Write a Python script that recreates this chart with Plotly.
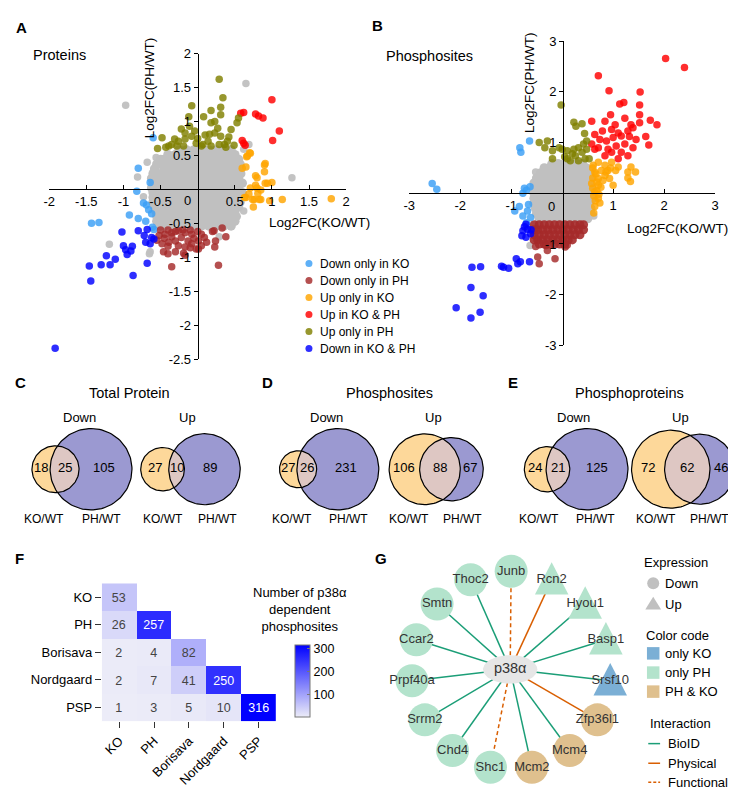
import math
import plotly.graph_objects as go

W, H = 736, 791
FONT = "Liberation Sans, Arial, sans-serif"

# ---------------- data: panel A (proteins) ----------------
GROUPS = ["Down only in KO", "Down only in PH", "Up only in KO",
          "Up in KO & PH", "Up only in PH", "Down in KO & PH"]
GROUP_COLORS = ["#3a9ff5", "#a52a2a", "#ffa500", "#ff0000", "#808000", "#0000ff"]
GRAY = "#c0c0c0"

A_GRAY_ROWS = {
    0.58: [-0.25, -0.15, -0.05, 0.05, 0.15, 0.25, 0.35, 0.45],
    0.51: [-0.4, -0.3, -0.2, -0.1, 0, 0.1, 0.2, 0.3, 0.4, 0.5],
    0.44: [-0.5, -0.45, -0.35, -0.25, -0.15, -0.05, 0.05, 0.15, 0.25, 0.35, 0.45, 0.55],
    0.37: [-0.55, -0.5, -0.4, -0.3, -0.2, -0.1, 0, 0.1, 0.2, 0.3, 0.4, 0.5, 0.57],
    0.30: [-0.58, -0.45, -0.35, -0.25, -0.15, -0.05, 0.05, 0.15, 0.25, 0.35, 0.45, 0.55],
    0.23: [-0.6, -0.5, -0.4, -0.3, -0.2, -0.1, 0, 0.1, 0.2, 0.3, 0.4, 0.5, 0.58],
    0.16: [-0.62, -0.55, -0.45, -0.35, -0.25, -0.15, -0.05, 0.05, 0.15, 0.25, 0.35, 0.45, 0.55],
    0.09: [-0.6, -0.5, -0.4, -0.3, -0.2, -0.1, 0, 0.1, 0.2, 0.3, 0.4, 0.5, 0.6],
    0.02: [-0.62, -0.55, -0.45, -0.35, -0.25, -0.15, -0.05, 0.05, 0.15, 0.25, 0.35, 0.45, 0.55],
    -0.05: [-0.6, -0.5, -0.4, -0.3, -0.2, -0.1, 0, 0.1, 0.2, 0.3, 0.4, 0.5, 0.6],
    -0.12: [-0.6, -0.55, -0.45, -0.35, -0.25, -0.15, -0.05, 0.05, 0.15, 0.25, 0.35, 0.45, 0.55],
    -0.19: [-0.6, -0.5, -0.4, -0.3, -0.2, -0.1, 0, 0.1, 0.2, 0.3, 0.4, 0.5, 0.57],
    -0.26: [-0.58, -0.45, -0.35, -0.25, -0.15, -0.05, 0.05, 0.15, 0.25, 0.35, 0.45, 0.55],
    -0.33: [-0.56, -0.5, -0.4, -0.3, -0.2, -0.1, 0, 0.1, 0.2, 0.3, 0.4, 0.5],
    -0.40: [-0.55, -0.45, -0.35, -0.25, -0.15, -0.05, 0.05, 0.15, 0.25, 0.35, 0.45, 0.52],
    -0.47: [-0.55, -0.5, -0.4, -0.3, -0.2, -0.1, 0, 0.1, 0.2, 0.3, 0.4, 0.5],
    -0.54: [-0.5, -0.45, -0.35, -0.25, -0.15, -0.05, 0.05, 0.15, 0.25, 0.35, 0.45],
}
A_GRAY_OUT = [(-0.97, 1.24), (0.65, 1.56), (1.27, 0.17), (-1.19, -0.81), (-0.81, 0.18),
              (-0.56, 0.47), (-0.73, -0.11), (0.29, -0.70), (0.45, -0.51), (0.62, -0.32),
              (-0.65, -0.95), (0.69, 0.66), (-0.64, -0.92), (0.62, 0.59), (-0.68, 0.40)]
A_DOWN_KO = [(-0.60, 0.76), (-0.80, 0.31), (-0.82, -0.03), (-0.64, 0.10), (-0.69, -0.23),
             (-0.66, -0.30), (-0.92, -0.38), (-0.80, -0.43), (-0.70, -0.47), (-0.61, -0.56),
             (-1.43, -0.50), (-1.33, -0.49), (-0.59, -0.59), (-0.62, -0.36), (-0.73, -0.20)]
A_DOWN_PH = [(-0.52, -0.68), (-0.44, -0.66), (-0.35, -0.64), (-0.26, -0.61), (-0.17, -0.64),
             (-0.08, -0.66), (-0.22, -0.71), (-0.13, -0.76), (-0.30, -0.76), (-0.39, -0.78),
             (-0.48, -0.80), (-0.26, -0.83), (-0.17, -0.85), (-0.08, -0.80), (0.01, -0.76),
             (0.09, -0.71), (0.20, -0.62), (0.33, -0.57), (0.38, -0.70), (0.24, -0.76),
             (0.12, -0.78), (0.01, -0.88), (-0.46, -0.92), (-0.40, -0.95), (-0.30, -0.92),
             (-0.19, -0.94), (-0.35, -1.14), (0.28, -1.12), (0.05, -0.83), (0.22, -0.61),
             (0.23, -0.85), (-0.17, -0.97), (-0.02, -0.88), (-0.50, -0.60), (-0.40, -0.60),
             (-0.30, -0.62), (-0.20, -0.60), (-0.10, -0.60), (0.00, -0.62), (-0.45, -0.72),
             (-0.35, -0.70), (-0.05, -0.72), (0.05, -0.66), (-0.40, -0.84), (-0.10, -0.86),
             (-0.55, -0.75)]
A_UP_KO = [(0.70, 0.54), (0.67, 0.49), (0.66, 0.48), (0.71, 0.53), (0.60, 0.31), (0.65, 0.33),
           (0.91, 0.38), (0.90, 0.36), (0.90, 0.26), (0.80, 0.17), (0.78, 0.20), (0.91, 0.09),
           (1.00, 0.10), (0.94, 0.09), (0.71, 0.02), (0.80, 0.02), (0.85, -0.01), (0.81, -0.06),
           (0.65, -0.12), (0.63, -0.12), (0.76, -0.15), (0.74, -0.15), (0.85, -0.15), (0.83, -0.15),
           (0.97, -0.17), (0.75, -0.26), (1.14, -0.15), (1.80, -0.14), (0.69, -0.07), (0.78, 0.06)]
A_UP_BOTH = [(0.62, 1.13), (0.58, 1.12), (0.78, 1.11), (0.88, 1.05), (1.00, 1.32), (1.10, 0.86),
             (1.01, 0.72), (0.60, 0.72), (0.62, 0.68), (0.82, 1.08), (0.64, 0.65)]
A_UP_PH = [(0.29, 1.62), (-0.08, 1.23), (-0.12, 1.07), (0.18, 1.16), (0.08, 1.07), (0.31, 1.21),
           (0.31, 1.10), (0.34, 1.35), (0.55, 1.05), (0.53, 0.98), (0.23, 1.00), (-0.48, 0.76),
           (-0.54, 0.60), (-0.43, 0.62), (-0.31, 0.74), (-0.22, 0.89), (-0.17, 0.83), (-0.08, 0.78),
           (-0.26, 0.71), (0.00, 0.75), (0.14, 0.71), (0.23, 0.83), (0.31, 0.78), (0.40, 0.71),
           (0.36, 0.66), (0.18, 0.64), (-0.19, 0.64), (-0.04, 0.86), (0.45, 0.88), (0.49, 0.65),
           (-0.11, 0.93), (0.16, 0.81), (0.29, 0.66), (-0.35, 0.66), (0.07, 0.66), (-0.17, 0.74),
           (0.42, 0.77), (0.18, 0.98), (0.27, 0.90), (-0.39, 0.64), (0.10, 0.80), (-0.28, 0.64),
           (0.05, 0.64), (0.38, 0.62), (-0.02, 0.68)]
A_DOWN_BOTH = [(-1.02, -0.63), (-0.80, -0.61), (-0.68, -0.59), (-0.72, -0.68), (-0.70, -0.78),
               (-0.64, -0.80), (-0.59, -0.73), (-1.00, -0.83), (-0.88, -0.84), (-0.90, -0.91),
               (-0.95, -0.96), (-0.97, -0.89), (-1.23, -0.98), (-1.11, -1.03), (-1.18, -1.11),
               (-1.30, -1.11), (-1.46, -1.13), (-1.44, -1.35), (-0.87, -1.27), (-0.68, -1.09),
               (-1.92, -2.34), (-0.62, -0.71)]

# ---------------- data: panel B (phosphosites) ----------------
B_GRAY_ROWS = {
    0.58: [-0.2, -0.08, 0.04, 0.16, 0.28, 0.4],
    0.5: [-0.35, -0.25, -0.13, -0.01, 0.11, 0.23, 0.35, 0.47],
    0.4: [-0.42, -0.3, -0.18, -0.06, 0.06, 0.18, 0.3, 0.42, 0.54],
    0.3: [-0.5, -0.38, -0.26, -0.14, -0.02, 0.1, 0.22, 0.34, 0.46, 0.56],
    0.2: [-0.55, -0.43, -0.31, -0.19, -0.07, 0.05, 0.17, 0.29, 0.41, 0.53],
    0.1: [-0.55, -0.45, -0.33, -0.21, -0.09, 0.03, 0.15, 0.27, 0.39, 0.51, 0.58],
    0.0: [-0.55, -0.43, -0.31, -0.19, -0.07, 0.05, 0.17, 0.29, 0.41, 0.53],
    -0.1: [-0.55, -0.45, -0.33, -0.21, -0.09, 0.03, 0.15, 0.27, 0.39, 0.51, 0.6],
    -0.2: [-0.55, -0.43, -0.31, -0.19, -0.07, 0.05, 0.17, 0.29, 0.41, 0.53],
    -0.3: [-0.52, -0.4, -0.28, -0.16, -0.04, 0.08, 0.2, 0.32, 0.44, 0.56],
    -0.4: [-0.5, -0.38, -0.26, -0.14, -0.02, 0.1, 0.22, 0.34, 0.46, 0.56],
    -0.5: [-0.45, -0.33, -0.21, -0.09, 0.03, 0.15, 0.27, 0.39, 0.5],
}
B_GRAY_OUT = [(-0.63, -1.03), (-0.52, 0.42), (0.62, -0.45)]
B_DOWN_KO = [(-2.55, 0.19), (-2.46, 0.08), (-0.64, 1.03), (-0.83, 0.90), (-0.81, 0.81),
             (-0.77, 0.00), (-0.74, 0.10), (-0.63, 0.13), (-0.70, 0.06), (-0.84, -0.26),
             (-0.93, -0.35), (-0.77, -0.45), (-0.68, -0.35), (-0.70, -0.58), (-0.66, -0.22),
             (-0.62, -0.48)]
B_DOWN_PH_ROWS = {
    -0.62: [-0.55, -0.45, -0.35, -0.25, -0.15, -0.05, 0.05, 0.15, 0.25, 0.35, 0.42],
    -0.72: [-0.55, -0.48, -0.38, -0.28, -0.18, -0.08, 0.02, 0.12, 0.22, 0.32, 0.42],
    -0.82: [-0.55, -0.45, -0.35, -0.25, -0.15, -0.05, 0.05, 0.15, 0.25, 0.35],
    -0.92: [-0.55, -0.48, -0.38, -0.28, -0.18, -0.08, 0.02, 0.12, 0.2],
    -1.0: [-0.45, -0.35, -0.25, -0.15, -0.05, 0.05],
}
B_DOWN_PH_OUT = [(-0.48, -1.26), (-0.45, -1.39), (-0.29, -1.13), (-0.14, -1.29), (0.06, -1.06),
                 (-0.32, -1.03), (0.10, -1.02), (-0.52, -1.05)]
B_UP_KO = [(0.61, 0.55), (0.71, 0.61), (0.84, 0.55), (0.97, 0.61), (1.10, 0.52), (1.29, 0.42),
           (1.35, 0.52), (1.44, 0.42), (1.29, 0.30), (1.34, 0.23), (1.00, 0.16), (0.84, 0.35),
           (0.71, 0.29), (0.64, 0.42), (0.58, 0.19), (0.64, 0.03), (0.71, -0.10), (0.74, -0.19),
           (0.64, -0.26), (0.62, -0.39), (0.77, 0.45), (0.90, 0.45), (0.93, 0.29), (0.71, 0.16),
           (0.60, 0.50), (0.66, 0.38), (0.60, 0.30), (0.68, 0.22), (0.60, 0.10), (0.68, 0.05),
           (0.62, -0.05), (0.72, -0.02), (0.65, -0.15), (0.80, 0.25), (0.76, 0.12), (0.86, 0.42),
           (0.95, 0.50), (1.05, 0.45)]
B_UP_BOTH = [(2.03, 2.66), (2.40, 2.48), (0.71, 2.32), (0.92, 2.02), (1.53, 2.00), (1.13, 1.76),
             (1.21, 1.79), (1.52, 1.74), (1.52, 1.55), (0.95, 1.55), (0.58, 1.42), (0.84, 1.42),
             (1.04, 1.35), (1.23, 1.48), (1.35, 1.35), (1.52, 1.39), (1.73, 1.44), (1.86, 1.35),
             (1.64, 1.12), (1.70, 0.95), (0.79, 1.23), (0.97, 1.26), (1.10, 1.19), (1.29, 1.23),
             (1.39, 1.29), (0.64, 1.16), (0.87, 1.03), (1.00, 1.10), (1.16, 1.13), (1.32, 1.12),
             (1.45, 1.06), (0.71, 0.90), (0.90, 0.87), (1.06, 0.93), (1.23, 0.97), (1.39, 0.90),
             (0.64, 0.87), (0.58, 0.97), (0.97, 0.81), (1.16, 0.81), (1.29, 0.74), (1.10, 0.68),
             (0.84, 0.74), (0.74, 1.06)]
B_UP_PH = [(-0.02, 1.74), (0.23, 1.40), (0.39, 1.37), (0.27, 1.32), (0.44, 1.18), (-0.45, 1.00),
           (-0.29, 1.03), (-0.34, 0.90), (-0.19, 0.84), (-0.19, 0.68), (-0.06, 0.90), (0.00, 0.87),
           (0.10, 0.84), (0.10, 0.68), (0.23, 0.87), (0.32, 0.90), (0.42, 0.97), (0.48, 1.03),
           (0.48, 0.87), (0.39, 0.81), (0.26, 0.74), (0.16, 0.64), (0.32, 0.64), (0.45, 0.68),
           (0.53, 0.68), (0.05, 0.72), (0.20, 0.78)]
B_DOWN_BOTH = [(-1.77, -1.46), (-1.60, -1.45), (-1.19, -1.44), (-1.15, -1.46), (-1.05, -1.48),
               (-0.90, -1.29), (-0.87, -1.39), (-0.82, -1.35), (-0.64, -1.35), (-1.79, -1.86),
               (-1.55, -2.02), (-2.08, -2.26), (-1.79, -2.46), (-1.61, -2.35), (-0.71, -0.61),
               (-0.68, -0.71), (-0.61, -0.72), (-0.77, -0.74), (-0.79, -0.84), (-0.71, -0.87),
               (-0.62, -0.80), (-0.74, -0.66)]

AX_A_X = [-2, -1.5, -1, -0.5, 0.5, 1, 1.5, 2]
AX_A_XT = ["-2", "-1.5", "-1", "-0.5", "0.5", "1", "1.5", "2"]
AX_A_Y = [2, 1.5, 1, 0.5, -0.5, -1, -1.5, -2, -2.5]
AX_A_YT = ["2", "1.5", "1", "0.5", "-0.5", "-1", "-1.5", "-2", "-2.5"]
AX_B_X = [-3, -2, -1, 1, 2, 3]
AX_B_XT = ["-3", "-2", "-1", "1", "2", "3"]
AX_B_Y = [3, 2, 1, -1, -2, -3]
AX_B_YT = ["3", "2", "1", "-1", "-2", "-3"]

# ---------------- data: Venn diagrams (C, D, E) ----------------
VENN_TITLES = ["Total Protein", "Phosphosites", "Phosphoproteins"]
VENN_SIDES = ["Down", "Up"]
VENN_KO_ONLY = [[18, 27], [27, 106], [24, 72]]
VENN_BOTH = [[25, 10], [26, 88], [21, 62]]
VENN_PH_ONLY = [[105, 89], [231, 67], [125, 46]]

# ---------------- data: heatmap (F) ----------------
HM_LABELS = ["KO", "PH", "Borisava", "Nordgaard", "PSP"]
HM_VALUES = [[53, None, None, None, None],
             [26, 257, None, None, None],
             [2, 4, 82, None, None],
             [2, 7, 41, 250, None],
             [1, 3, 5, 10, 316]]

# ---------------- data: network (G) ----------------
NET_NODES = ["Junb", "Rcn2", "Hyou1", "Basp1", "Srsf10", "Zfp36l1", "Mcm4", "Mcm2",
             "Shc1", "Chd4", "Srrm2", "Prpf40a", "Ccar2", "Smtn", "Thoc2"]
NET_EXPR = ["Down", "Up", "Up", "Up", "Up", "Down", "Down", "Down",
            "Down", "Down", "Down", "Down", "Down", "Down", "Down"]
NET_GROUP = ["only PH", "only PH", "only PH", "only PH", "only KO", "PH & KO", "PH & KO", "PH & KO",
             "only PH", "only PH", "only PH", "only PH", "only PH", "only PH", "only PH"]
NET_EDGE = ["Functional", "Physical", "BioID", "BioID", "BioID", "Physical", "BioID", "BioID",
            "Functional", "BioID", "BioID", "BioID", "BioID", "BioID", "BioID"]
GROUP_FILL = {"only KO": "#7bafd5", "only PH": "#b3e3cc", "PH & KO": "#dfc08e"}
EDGE_STYLE = {"BioID": ("#1b9e77", "solid"), "Physical": ("#d95f02", "solid"),
              "Functional": ("#d95f02", "4px,3px")}


def fx(px):
    return px / W


def fy(py):
    return 1 - py / H


fig = go.Figure()
annotations = []


def txt(x, y, s, size=13, anchor="center", angle=0, color="black"):
    annotations.append(dict(text=s, x=x, y=y, xref="x", yref="y", showarrow=False,
                            xanchor=anchor, yanchor="middle", textangle=angle,
                            font=dict(family=FONT, size=size, color=color)))


def rows_to_pts(rows):
    return [(x, y) for y, xs in rows.items() for x in xs]


def add_pts(pts, color, xa, ya, opacity=0.82, size=7.5):
    fig.add_trace(go.Scatter(x=[p[0] for p in pts], y=[p[1] for p in pts], mode="markers",
                             marker=dict(size=size, color=color, opacity=opacity, line_width=0),
                             xaxis=xa, yaxis=ya, cliponaxis=False, hoverinfo="skip"))


# canvas trace so the pixel axis exists
fig.add_trace(go.Scatter(x=[None], y=[None], xaxis="x", yaxis="y", showlegend=False))

# ---- A
add_pts(A_GRAY_OUT, GRAY, "x2", "y2", 0.95)
add_pts(rows_to_pts(A_GRAY_ROWS), GRAY, "x2", "y2", 1.0, 9.5)
for pts, col in zip([A_DOWN_KO, A_DOWN_PH, A_UP_KO, A_UP_BOTH, A_UP_PH, A_DOWN_BOTH], GROUP_COLORS):
    add_pts(pts, col, "x2", "y2")
# ---- B
add_pts(B_GRAY_OUT, GRAY, "x3", "y3", 0.95)
add_pts(rows_to_pts(B_GRAY_ROWS), GRAY, "x3", "y3", 1.0, 9.5)
add_pts(rows_to_pts(B_DOWN_PH_ROWS), GROUP_COLORS[1], "x3", "y3", 0.9, 9)
b_sets = [B_DOWN_KO, B_DOWN_PH_OUT, B_UP_KO, B_UP_BOTH, B_UP_PH, B_DOWN_BOTH]
for pts, col in zip(b_sets, GROUP_COLORS):
    add_pts(pts, col, "x3", "y3")

# legend of A (drawn in canvas)
leg_y = [253.3 + 17.35 * i for i in range(len(GROUPS))]
fig.add_trace(go.Scatter(x=[299] * len(GROUPS), y=leg_y, mode="markers",
                         marker=dict(size=7, color=GROUP_COLORS, opacity=0.82),
                         xaxis="x", yaxis="y", hoverinfo="skip"))
for g, yy in zip(GROUPS, leg_y):
    txt(308, yy, g, size=12, anchor="left")


# ---- Venn diagrams
def lens_area(r1, r2, d):
    if d >= r1 + r2:
        return 0.0
    if d <= abs(r1 - r2):
        return math.pi * min(r1, r2) ** 2
    a = r1 * r1 * math.acos((d * d + r1 * r1 - r2 * r2) / (2 * d * r1))
    b = r2 * r2 * math.acos((d * d + r2 * r2 - r1 * r1) / (2 * d * r2))
    c = 0.5 * math.sqrt((-d + r1 + r2) * (d + r1 - r2) * (d - r1 + r2) * (d + r1 + r2))
    return a + b - c


def solve_d(r1, r2, target):
    lo, hi = abs(r1 - r2), r1 + r2
    for _ in range(80):
        mid = (lo + hi) / 2
        if lens_area(r1, r2, mid) > target:
            lo = mid
        else:
            hi = mid
    return (lo + hi) / 2


def arc(cx, cy, r, a0, a1, n=80):
    return ([cx + r * math.cos(a0 + (a1 - a0) * i / n) for i in range(n + 1)],
            [cy + r * math.sin(a0 + (a1 - a0) * i / n) for i in range(n + 1)])


VENN_CX = [[68.9, 178.9], [319.5, 428.0], [569.9, 678.5]]
VENN_TITLE_X = [117.5, 380.5, 624]
VENN_CY = 463
R_MAX = 41.5
KO_FILL, PH_FILL, BOTH_FILL = "#fdd89a", "#9b99d1", "#dec7c3"

for p in range(3):
    totals = []
    for s in range(2):
        totals += [VENN_KO_ONLY[p][s] + VENN_BOTH[p][s], VENN_PH_ONLY[p][s] + VENN_BOTH[p][s]]
    nmax = max(totals)
    unit_area = math.pi * R_MAX ** 2 / nmax
    txt(VENN_TITLE_X[p], 385, VENN_TITLES[p], size=14.5)
    for s in range(2):
        ko = VENN_KO_ONLY[p][s] + VENN_BOTH[p][s]
        ph = VENN_PH_ONLY[p][s] + VENN_BOTH[p][s]
        r1 = R_MAX * math.sqrt(ko / nmax)
        r2 = R_MAX * math.sqrt(ph / nmax)
        d = solve_d(r1, r2, unit_area * VENN_BOTH[p][s])
        left = VENN_CX[p][s] - (r1 + d + r2) / 2
        c1 = left + r1
        c2 = c1 + d
        for cx, r, col in [(c1, r1, KO_FILL), (c2, r2, PH_FILL)]:
            xs, ys = arc(cx, VENN_CY, r, 0, 2 * math.pi, 120)
            fig.add_trace(go.Scatter(x=xs, y=ys, mode="lines", fill="toself", fillcolor=col,
                                     line=dict(width=0), xaxis="x", yaxis="y", hoverinfo="skip"))
        a = (d * d + r1 * r1 - r2 * r2) / (2 * d)
        h = math.sqrt(max(r1 * r1 - a * a, 0))
        t1 = math.atan2(h, a)
        t2 = math.atan2(h, d - a)
        lx1, ly1 = arc(c1, VENN_CY, r1, -t1, t1)
        lx2, ly2 = arc(c2, VENN_CY, r2, math.pi - t2, math.pi + t2)
        fig.add_trace(go.Scatter(x=lx1 + lx2, y=ly1 + ly2, mode="lines", fill="toself",
                                 fillcolor=BOTH_FILL, line=dict(width=0),
                                 xaxis="x", yaxis="y", hoverinfo="skip"))
        for cx, r in [(c1, r1), (c2, r2)]:
            xs, ys = arc(cx, VENN_CY, r, 0, 2 * math.pi, 120)
            fig.add_trace(go.Scatter(x=xs, y=ys, mode="lines", line=dict(width=1.2, color="black"),
                                     xaxis="x", yaxis="y", hoverinfo="skip"))
        ko_l, ph_l, ko_r, ph_r = c1 - r1, c2 - r2, c1 + r1, c2 + r2
        txt((ko_l + ph_l) / 2, 461, str(VENN_KO_ONLY[p][s]))
        txt((ph_l + ko_r) / 2, 461, str(VENN_BOTH[p][s]))
        txt((ko_r + ph_r) / 2 - 2, 461, str(VENN_PH_ONLY[p][s]))
        txt(VENN_CX[p][s] - 3, 410, VENN_SIDES[s])
        off = (-38, 20) if s == 0 else (-28, 27)
        txt(VENN_CX[p][s] + off[0], 514, "KO/WT", size=12)
        txt(VENN_CX[p][s] + off[1], 514, "PH/WT", size=12)

# ---- F heatmap
fig.add_trace(go.Heatmap(
    z=HM_VALUES, x=HM_LABELS, y=HM_LABELS, xaxis="x4", yaxis="y4",
    colorscale=[[0, "#ececf8"], [1, "#0000ff"]], zmin=1, zmax=316,
    texttemplate="%{z}", textfont=dict(size=12.5, family=FONT), hoverongaps=False,
    colorbar=dict(x=fx(285), xanchor="left", y=fy(679), yanchor="middle", xpad=0, ypad=0,
                  len=72, lenmode="pixels", thickness=15, thicknessmode="pixels",
                  outlinewidth=1, outlinecolor="#777", tickvals=[100, 200, 300],
                  ticks="inside", ticklen=3, tickcolor="#777",
                  tickfont=dict(size=12.5, family=FONT, color="black"))))
txt(290, 606, "Number of p38α<br>dependent<br>phosphosites", size=13)

# ---- G network
NET_C = (504, 668)
NET_R = 101
ELL = (503, 667)
n = len(NET_NODES)
node_x = [NET_C[0] + NET_R * math.sin(2 * math.pi * i / n) for i in range(n)]
node_y = [NET_C[1] - NET_R * math.cos(2 * math.pi * i / n) for i in range(n)]

for kind, (col, dash) in EDGE_STYLE.items():
    ex, ey = [], []
    for i in range(n):
        if NET_EDGE[i] == kind:
            ex += [ELL[0], node_x[i], None]
            ey += [ELL[1], node_y[i], None]
    fig.add_trace(go.Scatter(x=ex, y=ey, mode="lines", line=dict(color=col, width=1.5, dash=dash),
                             xaxis="x", yaxis="y", hoverinfo="skip"))

ex_, ey_ = arc(ELL[0], ELL[1], 1, 0, 2 * math.pi, 80)
fig.add_trace(go.Scatter(x=[ELL[0] + 27.5 * (v - ELL[0]) for v in ex_],
                         y=[ELL[1] + 14.5 * (v - ELL[1]) for v in ey_],
                         mode="lines", fill="toself", fillcolor="#e6e6e6", line=dict(width=0),
                         xaxis="x", yaxis="y", hoverinfo="skip"))

circ = [i for i in range(n) if NET_EXPR[i] == "Down"]
fig.add_trace(go.Scatter(x=[node_x[i] for i in circ], y=[node_y[i] for i in circ], mode="markers",
                         marker=dict(size=33, color=[GROUP_FILL[NET_GROUP[i]] for i in circ], line_width=0),
                         xaxis="x", yaxis="y", hoverinfo="skip"))
for i in range(n):
    if NET_EXPR[i] == "Up":
        fig.add_trace(go.Scatter(x=[node_x[i] - 17, node_x[i] + 17, node_x[i], node_x[i] - 17],
                                 y=[node_y[i] + 15, node_y[i] + 15, node_y[i] - 18, node_y[i] + 15],
                                 mode="lines", fill="toself", fillcolor=GROUP_FILL[NET_GROUP[i]],
                                 line=dict(width=0), xaxis="x", yaxis="y", hoverinfo="skip"))
fig.add_trace(go.Scatter(x=node_x + [ELL[0]], y=node_y + [ELL[1]], mode="text",
                         text=NET_NODES + ["p38α"],
                         textfont=dict(size=[13] * n + [14.5], color="#333333", family=FONT),
                         xaxis="x", yaxis="y", hoverinfo="skip"))

# legend of G
txt(637, 558.5, "Expression", size=13, anchor="left")
fig.add_trace(go.Scatter(x=[648], y=[579.3], mode="markers", marker=dict(size=12, color="#c0c0c0"),
                         xaxis="x", yaxis="y", hoverinfo="skip"))
fig.add_trace(go.Scatter(x=[640, 656, 648, 640], y=[606, 606, 593, 606], mode="lines", fill="toself",
                         fillcolor="#c0c0c0", line=dict(width=0), xaxis="x", yaxis="y", hoverinfo="skip"))
txt(658, 579.3, "Down", anchor="left")
txt(658, 600.5, "Up", anchor="left")
txt(639, 632.3, "Color code", anchor="left")
sq_keys = list(GROUP_FILL.keys())
sq_y = [650.7, 670.3, 689.7]
fig.add_trace(go.Scatter(x=[648] * 3, y=sq_y, mode="markers",
                         marker=dict(symbol="square", size=12.5, color=[GROUP_FILL[k] for k in sq_keys]),
                         xaxis="x", yaxis="y", hoverinfo="skip"))
for k, yy in zip(sq_keys, sq_y):
    txt(658, yy, k, anchor="left")
txt(642.5, 722.3, "Interaction", anchor="left")
for (kind, (col, dash)), yy in zip(EDGE_STYLE.items(), [742.7, 762.7, 782]):
    fig.add_trace(go.Scatter(x=[643, 655], y=[yy, yy], mode="lines",
                             line=dict(color=col, width=1.5, dash="3px,2px" if dash != "solid" else "solid"),
                             xaxis="x", yaxis="y", hoverinfo="skip"))
    txt(660.5, yy, kind, anchor="left")

# ---- texts: panel letters, titles, axis titles
for s, x, y in [("A", 8, 12.5), ("B", 368.7, 10.5), ("C", 6.7, 375), ("D", 257, 375),
                ("E", 506, 375), ("F", 6, 554), ("G", 371.7, 554.5)]:
    txt(x, y, "<b>%s</b>" % s, size=15)
txt(17, 41, "Proteins", size=14.5, anchor="left")
txt(375, 41.7, "Phosphosites", size=14.5, anchor="left")
txt(137.5, 74, "Log2FC(PH/WT)", size=13.5, angle=-90)
txt(522.5, 69, "Log2FC(PH/WT)", size=13.5, angle=-90)
txt(310, 212, "Log2FC(KO/WT)", size=13.5)
txt(673, 218, "Log2FC(KO/WT)", size=13.5)
txt(176, 189.5, "0", size=13)
txt(545, 195, "0", size=13)


def xax(x0, x1, rng, origin_py, vals, texts):
    return dict(domain=[fx(x0), fx(x1)], range=rng, anchor="free", position=fy(origin_py),
                showline=True, linecolor="black", linewidth=1, ticks="inside", ticklen=4,
                tickcolor="black", tickvals=vals, ticktext=texts, showgrid=False, zeroline=False,
                tickfont=dict(size=13, color="black", family=FONT), fixedrange=True)


def yax(y0, y1, rng, origin_px, vals, texts):
    return dict(domain=[fy(y1), fy(y0)], range=rng, anchor="free", position=fx(origin_px),
                showline=True, linecolor="black", linewidth=1, ticks="outside", ticklen=4,
                tickcolor="black", tickvals=vals, ticktext=texts, showgrid=False, zeroline=False,
                tickfont=dict(size=13, color="black", family=FONT), fixedrange=True)


fig.update_layout(
    width=W, height=H, margin=dict(l=0, r=0, t=0, b=0), autosize=False,
    paper_bgcolor="white", plot_bgcolor="rgba(0,0,0,0)", showlegend=False,
    font=dict(family=FONT, size=13, color="black"), hovermode=False,
    xaxis=dict(domain=[0, 1], range=[0, W], visible=False, fixedrange=True),
    yaxis=dict(domain=[0, 1], range=[H, 0], visible=False, fixedrange=True),
    xaxis2=xax(35.7, 336.7, [-2, 2], 177.7, AX_A_X, AX_A_XT),
    yaxis2=yax(39.3, 350.7, [-2.5, 2], 186.2, AX_A_Y, AX_A_YT),
    xaxis3=xax(400.7, 710.7, [-3, 3], 181.7, AX_B_X, AX_B_XT),
    yaxis3=yax(26.7, 336.7, [-3, 3], 556.7, AX_B_Y, AX_B_YT),
    xaxis4=dict(domain=[fx(89), fx(265.7)], anchor="y4", ticks="outside", ticklen=6,
                tickcolor="#333", tickangle=-45, showgrid=False, zeroline=False, showline=False,
                tickfont=dict(size=13, family=FONT, color="black"), fixedrange=True),
    yaxis4=dict(domain=[fy(720), fy(579.3)], anchor="x4", autorange="reversed", ticks="outside",
                ticklen=6, tickcolor="#333", showgrid=False, zeroline=False, showline=False,
                tickfont=dict(size=13, family=FONT, color="black"), fixedrange=True),
    annotations=annotations,
)

fig.write_html("out.html")
